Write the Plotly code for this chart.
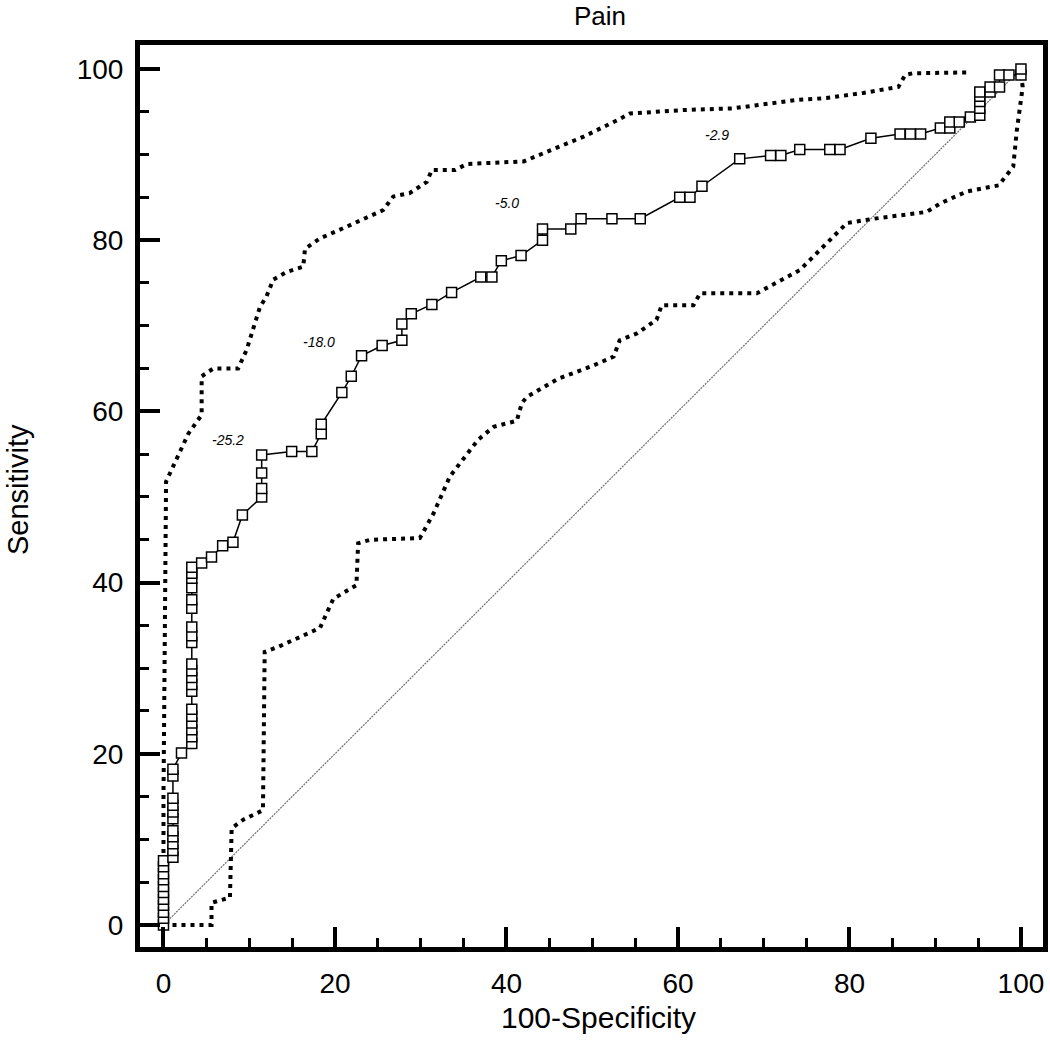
import plotly.graph_objects as go

# ROC curve (100-Specificity, Sensitivity)
roc_x = [0, 0, 0, 0, 0, 0, 0, 0, 0, 0, 0,
         1.1, 1.1, 1.1, 1.1, 1.1, 1.1, 1.1, 1.1, 1.1, 1.1, 1.1,
         2.1,
         3.3, 3.3, 3.3, 3.3, 3.3, 3.3, 3.3, 3.3, 3.3, 3.3, 3.3, 3.3, 3.3, 3.3, 3.3, 3.3, 3.3, 3.3, 3.3, 3.3,
         4.45, 5.6, 6.9, 8.1, 9.2,
         11.45, 11.45, 11.45, 11.45,
         14.95, 17.3, 18.4, 18.4,
         20.8, 21.9, 23.1, 25.5, 27.8, 27.8, 28.9, 31.3, 33.6,
         37.0, 38.3, 39.4, 41.7, 44.2, 44.2, 47.5, 48.7, 52.3, 55.6, 60.2, 61.4, 62.8, 67.2,
         70.8, 72.0, 74.2, 77.7, 78.9, 82.5, 85.9, 87.1, 88.3, 90.6, 91.7, 91.7, 92.8, 94.1,
         95.2, 95.2, 95.2, 95.2, 95.2, 96.4, 96.4, 97.5, 97.5, 98.6, 100, 100]
roc_y = [0, 0.8, 1.5, 2.3, 3.0, 3.8, 4.5, 5.3, 6.0, 6.8, 7.5,
         7.9, 8.7, 9.5, 10.3, 11.0, 12.4, 13.2, 14.0, 14.8, 17.4, 18.2,
         20.1,
         21.2, 22.0, 22.8, 23.6, 24.4, 25.2, 27.3, 28.1, 28.9, 29.7, 30.5, 33.0, 33.8, 34.8, 37.0, 38.0, 39.4, 40.5, 41.1, 41.8,
         42.3, 43.0, 44.3, 44.7, 47.9,
         50.0, 51.0, 52.8, 54.9,
         55.3, 55.3, 57.4, 58.5,
         62.2, 64.1, 66.5, 67.7, 68.3, 70.2, 71.4, 72.5, 73.9,
         75.7, 75.7, 77.6, 78.2, 80.0, 81.3, 81.3, 82.5, 82.5, 82.5, 85.0, 85.0, 86.3, 89.5,
         89.9, 89.9, 90.6, 90.6, 90.6, 91.9, 92.4, 92.4, 92.4, 93.1, 93.1, 93.8, 93.8, 94.4,
         94.6, 95.4, 96.2, 96.8, 97.3, 97.3, 97.9, 97.9, 99.3, 99.3, 99.3, 100]

# Upper confidence bound
upper_x = [0, 0, 0.3, 2.9, 4.45, 4.45, 5.8, 8.7, 9.7, 11.25, 12.0, 12.8, 14.4, 16.3, 16.5, 18.25,
           21.4, 25.6, 26.8, 28.7, 30.7, 31.3, 34.0, 35.4, 42.0, 45.5, 49.0, 52.9, 54.4, 60.6,
           66.4, 74.0, 77.3, 81.6, 85.7, 86.5, 87.4, 94.1]
upper_y = [0, 15, 51.8, 57.4, 59.6, 64.1, 65.0, 65.0, 67.2, 72.2, 73.4, 75.4, 76.3, 76.9, 79.0, 80.2,
           81.6, 83.5, 85.1, 85.5, 86.8, 88.2, 88.2, 88.9, 89.2, 90.7, 92.1, 94.0, 94.8, 95.2,
           95.4, 96.4, 96.6, 97.2, 97.9, 99.3, 99.5, 99.6]

# Lower confidence bound
lower_x = [0, 5.6, 5.6, 7.75, 7.95, 9.3, 11.6, 11.8, 13.4, 14.75, 18.25, 19.8, 22.5, 22.7, 24.1, 29.9,
           31.5, 33.4, 36.7, 38.5, 41.2, 41.8, 42.4, 46.0, 50.0, 52.5, 53.2, 55.2, 57.5, 58.1, 61.8,
           62.6, 69.2, 74.2, 78.9, 79.7, 82.8, 89.0, 90.6, 93.7, 97.4, 99.1, 99.5, 100.2, 100]
lower_y = [0, 0, 2.6, 3.2, 11.3, 12.3, 13.4, 31.9, 32.5, 33.1, 34.7, 38.1, 39.7, 44.6, 45.0, 45.2,
           48.1, 52.4, 56.7, 58.2, 58.9, 61.0, 61.7, 63.8, 65.3, 66.4, 68.3, 69.1, 70.7, 72.4, 72.4,
           73.8, 73.8, 76.5, 81.2, 82.0, 82.5, 83.3, 84.3, 85.7, 86.4, 88.6, 92.7, 97.9, 99.5]

# Reference diagonal
diag_x = [0, 100]
diag_y = [0, 100]

# Criterion labels
crit_text = ["-25.2", "-18.0", "-5.0", "-2.9"]
crit_x = [7.5, 18.1, 40.1, 64.6]
crit_y = [56.7, 68.1, 84.4, 92.3]

FONT = "Liberation Sans, Arial, sans-serif"

fig = go.Figure()
fig.add_trace(go.Scatter(x=diag_x, y=diag_y, mode="lines",
                         line=dict(color="#6e6e6e", width=1.2, dash="2px,1px"),
                         showlegend=False, hoverinfo="skip"))
fig.add_trace(go.Scatter(x=upper_x, y=upper_y, mode="lines",
                         line=dict(color="black", width=4, dash="4px,5px"),
                         showlegend=False))
fig.add_trace(go.Scatter(x=lower_x, y=lower_y, mode="lines",
                         line=dict(color="black", width=4, dash="4px,5px"),
                         showlegend=False))
fig.add_trace(go.Scatter(x=roc_x, y=roc_y, mode="lines+markers",
                         line=dict(color="black", width=1.5),
                         marker=dict(symbol="square", size=10, color="white",
                                     line=dict(color="black", width=1.5)),
                         showlegend=False))

for t, x, y in zip(crit_text, crit_x, crit_y):
    fig.add_annotation(x=x, y=y, text="<i>" + t + "</i>", showarrow=False,
                       font=dict(family=FONT, size=14, color="black"))

# Axis titles
fig.add_annotation(xref="paper", yref="paper", x=0.508, y=-0.0787, text="100-Specificity",
                   showarrow=False, xanchor="center", yanchor="middle",
                   font=dict(family=FONT, size=30, color="black"))
fig.add_annotation(xref="paper", yref="paper", x=-0.135, y=0.5067, text="Sensitivity",
                   showarrow=False, textangle=-90, xanchor="center", yanchor="middle",
                   font=dict(family=FONT, size=29, color="black"))

axis_common = dict(
    showline=True, linewidth=5, linecolor="black", mirror=True,
    ticks="inside", ticklen=20, tickwidth=3.5, tickcolor="black",
    showgrid=False, zeroline=False, automargin=False,
    tickfont=dict(family=FONT, size=28, color="black"),
    minor=dict(ticks="inside", ticklen=9, tickwidth=3, tickcolor="black", dtick=5, showgrid=False),
    dtick=20, tick0=0,
)

fig.update_layout(
    width=1050, height=1046,
    margin=dict(l=140, r=7, t=45, b=99, autoexpand=False),
    paper_bgcolor="white", plot_bgcolor="white",
    title=dict(text="Pain", x=600 / 1050, xanchor="center", y=1 - 16 / 1046, yanchor="middle",
               font=dict(family=FONT, size=26, color="black")),
    xaxis=dict(range=[-2.74, 102.57], ticklabelstandoff=7, **axis_common),
    yaxis=dict(range=[-2.57, 102.8], ticklabelstandoff=6, **axis_common),
)

fig.write_html("out.html", config={"displayModeBar": False},
               post_script="document.body.style.margin='0';")
